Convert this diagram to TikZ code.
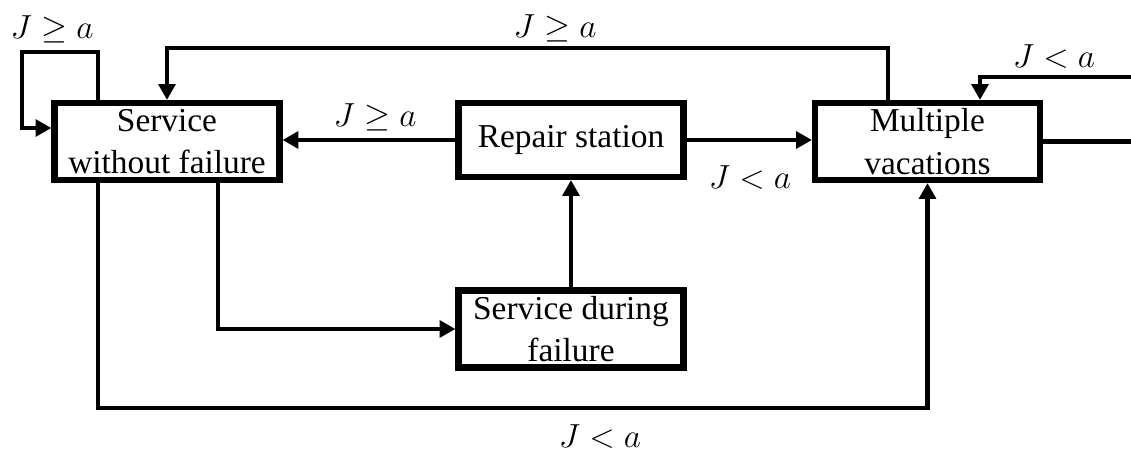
\RequirePackage{fix-cm}
\documentclass[tikz,border=0pt]{standalone}
\usepackage{fontspec}
\setmainfont{Liberation Serif}
\usetikzlibrary{arrows.meta, calc}

\begin{document}
\begin{tikzpicture}[
        box/.style={draw, line width=3.5pt, minimum width=4.5cm, minimum height=1.54cm,
            align=center, inner sep=2pt, font=\fontsize{19}{24}\selectfont},
        flow/.style={line width=2.7pt, -{Triangle[length=9pt,width=9.5pt]}},
        wire/.style={line width=2.7pt},
        cond/.style={font=\fontsize{19}{24}\selectfont}]
        \useasboundingbox (0,0) rectangle (22.62,9.14);

        % the four states
        \node[box] (swf) at (3.34,6.31) {Service\\without failure};
        \node[box, minimum height=1.48cm] (rs) at (11.42,6.34) {Repair station};
        \node[box] (mv) at (18.55,6.31) {Multiple\\vacations};
        \node[box] (sdf) at (11.42,2.56) {Service during\\failure};

        % conditions
        \node[cond] (c1) at (1.04,8.56) {$J \geq a$};
        \node[cond] (c2) at (11.1,8.58) {$J \geq a$};
        \node[cond] (c3) at (7.5,6.8) {$J \geq a$};
        \node[cond] (c4) at (15.0,5.58) {$J < a$};
        \node[cond] (c5) at (21.08,8.0) {$J < a$};
        \node[cond] (c6) at (12.0,0.4) {$J < a$};

        \coordinate (inR) at (22.7,7.6);
        \coordinate (outR) at (22.7,6.31);

        % transitions
        \draw[flow] ($(swf.north)+(-1.38,0)$) |- (0.44,8.1) |- ($(swf.west)+(0,0.27)$);
        \draw[flow] ($(mv.north)+(-0.79,0)$) -- ++(0,1.04) -| (swf.north);
        \draw[flow] (rs.west) -- (rs.west -| swf.east);
        \draw[flow] (rs.east) -- (rs.east -| mv.west);
        \draw[flow] (sdf) -- (rs);
        \draw[flow] ($(swf.south)+(1.02,0)$) |- (sdf.west);
        \draw[flow] ($(swf.south)+(-1.38,0)$) |- (12,0.98) -| (mv.south);
        \draw[flow] (inR) -| ($(mv.north)+(1.05,0)$);
        \draw[wire] (mv.east) -- (outR);
\end{tikzpicture}
\end{document}
